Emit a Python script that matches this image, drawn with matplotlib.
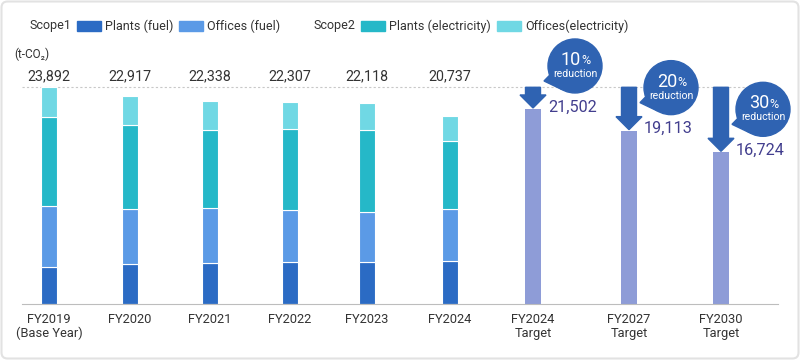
import matplotlib
matplotlib.use("Agg")
from matplotlib import pyplot as plt
from matplotlib.patches import Rectangle, Circle, Polygon, FancyBboxPatch
from matplotlib.transforms import IdentityTransform
import numpy as np

plt.rcParams["font.family"] = ["Roboto", "DejaVu Sans"]

# ---- data ----
years = ["FY2019\n(Base Year)", "FY2020", "FY2021", "FY2022", "FY2023", "FY2024"]
plants_fuel = [4046, 4422, 4500, 4605, 4589, 4761]
offices_fuel = [6791, 6047, 6082, 5742, 5518, 5686]
plants_elec = [9746, 9286, 8626, 8945, 9067, 7503]
offices_elec = [3309, 3162, 3130, 3015, 2944, 2787]
totals = [23892, 22917, 22338, 22307, 22118, 20737]

target_labels = ["FY2024\nTarget", "FY2027\nTarget", "FY2030\nTarget"]
target_values = [21502, 19113, 16724]
target_reduction = ["10", "20", "30"]

# ---- style ----
C_PF = "#2b6bc4"
C_OF = "#5b9ae6"
C_PE = "#25b8c8"
C_OE = "#70d8e4"
C_TG = "#8e9cd7"
C_ARROW = "#2f63b2"
C_TGTXT = "#423e8e"
C_TXT = "#333333"

W, H = 800, 360
x_act = [49, 130, 210, 290, 367, 450]
x_tgt = [533, 629, 721]
bar_w = 16

fig = plt.figure(figsize=(W / 100, H / 100), dpi=100)
ax = fig.add_axes([22 / W, 56 / H, 756 / W, 304 / H])
ax.patch.set_visible(False)
ax.set_xlim(22, 778)
ax.set_ylim(0, 304 * 110.25)

# stacked bars
bottom = np.zeros(len(years))
for vals, col in [(plants_fuel, C_PF), (offices_fuel, C_OF),
                  (plants_elec, C_PE), (offices_elec, C_OE)]:
    ax.bar(x_act, vals, bottom=bottom, width=bar_w, color=col,
           edgecolor="white", linewidth=0.8)
    bottom += np.array(vals)

ax.bar(x_tgt, target_values, width=bar_w, color=C_TG)

# base year reference line
ax.axhline(totals[0], color="#c8c8c8", lw=0.8, ls=(0, (2, 2)), zorder=0)

# totals above actual bars
for x, t in zip(x_act, totals):
    ax.text(x, 0.75, f"{t:,}", transform=ax.get_xaxis_transform(),
            ha="center", va="center", fontsize=10.3, color=C_TXT)

# target labels
for x, v in zip(x_tgt, target_values):
    ax.annotate(f"{v:,}", (x, v), xytext=(15, 2), textcoords="offset pixels",
                ha="left", va="center", fontsize=11.7, color=C_TGTXT)

# axes styling
for s in ["left", "right", "top"]:
    ax.spines[s].set_visible(False)
ax.spines["bottom"].set_color("#bdbdbd")
ax.set_yticks([])
ax.set_xticks(x_act + x_tgt, years + target_labels)
ax.tick_params(axis="x", length=0, pad=6.5, labelsize=9.3, labelcolor=C_TXT)
for lbl in ax.get_xticklabels():
    lbl.set_linespacing(1.1)

# arrows and bubbles (display pixels, computed from data positions)
ident = IdentityTransform()
for x, v, pct in zip(x_tgt, target_values, target_reduction):
    px, top = ax.transData.transform((x, totals[0]))
    _, py = ax.transData.transform((x, v))
    tip = py + 1
    hl = 13
    arrow = Polygon([(px - 7.5, top), (px + 7.5, top), (px + 7.5, tip + hl),
                     (px + 13, tip + hl), (px, tip), (px - 13, tip + hl),
                     (px - 7.5, tip + hl)], closed=True, color=C_ARROW,
                    transform=ident, zorder=5)
    fig.add_artist(arrow)

    cx, cy, r = px + 42, py + 43, 27
    fig.add_artist(Circle((cx, cy), r, color=C_ARROW, transform=ident, zorder=6))
    a1, a2 = np.deg2rad(200), np.deg2rad(240)
    tail = Polygon([(cx + r * np.cos(a1), cy + r * np.sin(a1)),
                    (cx - 31, cy - 15),
                    (cx + r * np.cos(a2), cy + r * np.sin(a2))],
                   closed=True, color=C_ARROW, transform=ident, zorder=6)
    fig.add_artist(tail)
    fig.text((cx - 4) / W, (cy + 6) / H, pct, ha="center", va="center",
             fontsize=13, color="white", zorder=7)
    fig.text((cx + 11) / W, (cy + 5) / H, "%", ha="center", va="center",
             fontsize=9, color="white", zorder=7)
    fig.text(cx / W, (cy - 8) / H, "reduction", ha="center", va="center",
             fontsize=7.6, color="white", zorder=7)

# legend (manual)
def ftxt(x, y, s, **kw):
    fig.text(x / W, 1 - y / H, s, va="center", color=C_TXT, **kw)

legend_y = 26
ftxt(30, legend_y, "Scope1", fontsize=9)
ftxt(313, legend_y, "Scope2", fontsize=9)
for x0, col, name in [(77, C_PF, "Plants (fuel)"), (179, C_OF, "Offices (fuel)"),
                      (361, C_PE, "Plants (electricity)"),
                      (497, C_OE, "Offices(electricity)")]:
    fig.add_artist(Rectangle((x0 / W, 1 - 31 / H), 24 / W, 10 / H,
                             color=col, transform=fig.transFigure))
    ftxt(x0 + 28, legend_y, name, fontsize=9)

ftxt(14, 54, "(t-CO\u2082)", fontsize=8.5)

# outer frame
fig.add_artist(FancyBboxPatch((1.5, 1.5), W - 3, H - 3,
                              boxstyle="round,pad=0,rounding_size=6",
                              fc="none", ec="#e2e2e2", lw=1.5,
                              transform=ident))

fig.savefig("out.png", dpi=100)
